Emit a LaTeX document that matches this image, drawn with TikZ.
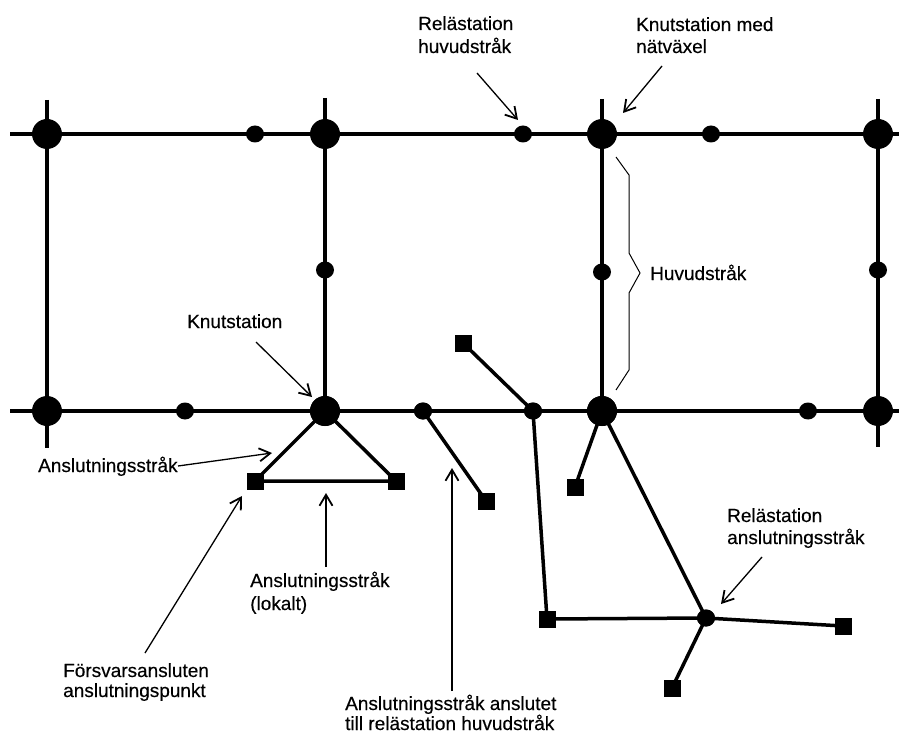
\documentclass[tikz,border=0pt]{standalone}
\usepackage{fontspec}
\setmainfont{Liberation Sans}[FakeBold=0.35]
\usetikzlibrary{arrows.meta,shapes.geometric}
\begin{document}
\begin{tikzpicture}[x=1pt,y=-1pt,
  bignode/.style={circle,fill=black,inner sep=0pt,minimum size=30pt},
  relay/.style={ellipse,fill=black,inner sep=0pt,minimum width=18pt,minimum height=17pt},
  endpt/.style={rectangle,fill=black,inner sep=0pt,minimum size=17pt},
  trunk/.style={line width=3.8pt},
  branch/.style={line width=3.5pt},
  pointer/.style={line width=1.3pt,-{Straight Barb[length=11pt,width=13pt,line width=1.8pt]}},
  lbl/.style={anchor=base west,inner sep=0pt,font=\fontsize{19}{22}\selectfont}]
\useasboundingbox (0,0) rectangle (899,735);

% grid of main routes
\coordinate (tl) at (10,134);  \coordinate (tr) at (899,134);
\coordinate (bl) at (10,411);  \coordinate (br) at (899,411);
\coordinate (v1t) at (47,100); \coordinate (v1b) at (47,448);
\coordinate (v2t) at (325,98);
\coordinate (v3t) at (602,99);
\coordinate (v4t) at (878,99); \coordinate (v4b) at (878,447);

\draw[trunk] (tl) -- (tr);
\draw[trunk] (bl) -- (br);
\draw[trunk] (v1t) -- (v1b);
\draw[trunk] (v2t) -- (325,411);
\draw[trunk] (v3t) -- (602,411);
\draw[trunk] (v4t) -- (v4b);

% node stations
\node[bignode] (A1) at (47,134) {};
\node[bignode] (A2) at (325,134) {};
\node[bignode] (A3) at (602,134) {};
\node[bignode] (A4) at (878,134) {};
\node[bignode] (B1) at (47,411) {};
\node[bignode] (B2) at (325,411) {};
\node[bignode] (B3) at (602,411) {};
\node[bignode] (B4) at (878,411) {};

% relay stations on main routes
\node[relay] (t1) at (255,134) {};
\node[relay] (t2) at (523,134) {};
\node[relay] (t3) at (711,134) {};
\node[relay] (m1) at (325,270) {};
\node[relay] (m2) at (602,272) {};
\node[relay] (m3) at (878,270) {};
\node[relay] (b1) at (185,411) {};
\node[relay] (b2) at (423,411) {};
\node[relay] (b3) at (533,411) {};
\node[relay] (b4) at (808,411) {};
\node[relay] (r) at (706,618) {};

% connection points
\node[endpt] (s1) at (255,481) {};
\node[endpt] (s2) at (396,481) {};
\node[endpt] (s3) at (463,343) {};
\node[endpt] (s4) at (486,501) {};
\node[endpt] (s5) at (575,487) {};
\node[endpt] (s6) at (547,619) {};
\node[endpt] (s7) at (843,626) {};
\node[endpt] (s8) at (672,688) {};

% connection routes
\draw[branch] (B2.center) -- (s1.center) -- (s2.center) -- cycle;
\draw[branch] (s3.center) -- (b3.center) -- (s6.center) -- (r.center);
\draw[branch] (b2.center) -- (s4.center);
\draw[branch] (B3.center) -- (s5.center);
\draw[branch] (B3.center) -- (r.center);
\draw[branch] (r.center) -- (s7.center);
\draw[branch] (r.center) -- (s8.center);
\node[endpt] at (s1) {};
\node[endpt] at (s2) {};
\node[endpt] at (s3) {};
\node[endpt] at (s6) {};
\node[bignode] at (B2) {};
\node[bignode] at (B3) {};
\node[relay] at (b2) {};
\node[relay] at (b3) {};
\node[relay] at (r) {};

% brace for the main route
\draw[line width=1pt,line join=miter] (616,157) -- (629,175) -- (629,253) -- (640,273)
  -- (629,293) -- (629,370) -- (616,390);

% labels
\node[lbl] (rh1) at (418,30) {Relästation};
\node[lbl] (rh2) at (418,53) {huvudstråk};
\node[lbl] (kn1) at (636,31) {Knutstation med};
\node[lbl] (kn2) at (636,53) {nätväxel};
\node[lbl] (hv) at (650,280) {Huvudstråk};
\node[lbl] (ks) at (187,328) {Knutstation};
\node[lbl] (as) at (38,472) {Anslutningsstråk};
\node[lbl] (al1) at (250,587) {Anslutningsstråk};
\node[lbl] (al2) at (250,610) {(lokalt)};
\node[lbl] (fa1) at (63,677) {Försvarsansluten};
\node[lbl] (fa2) at (63,697) {anslutningspunkt};
\node[lbl] (aa1) at (345,710) {Anslutningsstråk anslutet};
\node[lbl] (aa2) at (345,730) {till relästation huvudstråk};
\node[lbl] (ra1) at (727,522) {Relästation};
\node[lbl] (ra2) at (727,544) {anslutningsstråk};

% pointers
\coordinate (p1) at (477,73);  \coordinate (q1) at (518,120);
\coordinate (p2) at (662,66);  \coordinate (q2) at (623,113);
\coordinate (p3) at (256,342); \coordinate (q3) at (312,397);
\coordinate (p4) at (178,466); \coordinate (q4) at (272,453);
\coordinate (p5) at (326,567); \coordinate (q5) at (326,493);
\coordinate (p6) at (145,653); \coordinate (q6) at (242,496);
\coordinate (p7) at (452,691); \coordinate (q7) at (452,468);
\coordinate (p8) at (762,557); \coordinate (q8) at (721,604);
\draw[pointer] (p1) -- (q1);
\draw[pointer] (p2) -- (q2);
\draw[pointer] (p3) -- (q3);
\draw[pointer] (p4) -- (q4);
\draw[pointer] (p5) -- (q5);
\draw[pointer] (p6) -- (q6);
\draw[pointer] (p7) -- (q7);
\draw[pointer] (p8) -- (q8);
\end{tikzpicture}
\end{document}
